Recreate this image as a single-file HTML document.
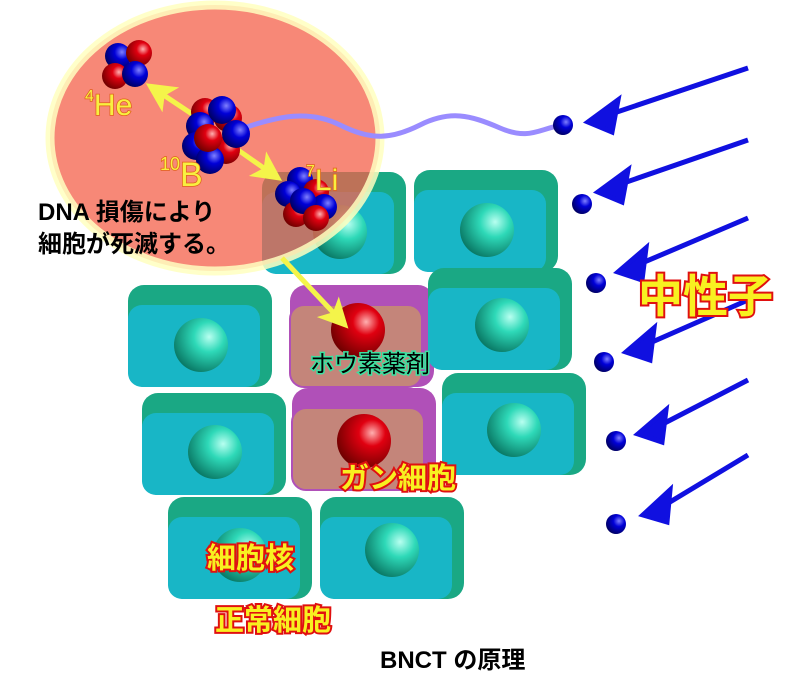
<!DOCTYPE html>
<html><head><meta charset="utf-8"><style>body{margin:0;background:#fff}svg{display:block}</style></head><body>
<svg width="800" height="680" viewBox="0 0 800 680" xmlns="http://www.w3.org/2000/svg" font-family="Liberation Sans, Noto Sans CJK JP, sans-serif">
<defs>
<radialGradient id="gn" cx="0.65" cy="0.35" r="0.7"><stop offset="0" stop-color="#b8fff0"/><stop offset="0.4" stop-color="#2ed9b8"/><stop offset="1" stop-color="#0a7a66"/></radialGradient>
<radialGradient id="rd" cx="0.65" cy="0.35" r="0.7"><stop offset="0" stop-color="#ffb0b0"/><stop offset="0.35" stop-color="#e00010"/><stop offset="1" stop-color="#700000"/></radialGradient>
<radialGradient id="bl" cx="0.65" cy="0.35" r="0.7"><stop offset="0" stop-color="#8080ff"/><stop offset="0.4" stop-color="#0000d8"/><stop offset="1" stop-color="#000060"/></radialGradient>
<g id="cell"><rect x="0" y="0" width="144" height="102" rx="16" fill="#1aa884"/><rect x="0" y="20" width="132" height="82" rx="14" fill="#18b6c6"/></g>
<g id="pcell"><rect x="0" y="0" width="144" height="102" rx="16" fill="#b050b8"/><rect x="0" y="20" width="132" height="82" rx="14" fill="#c4857a" stroke="#b050b8" stroke-width="2"/></g>
<marker id="ya" markerWidth="6" markerHeight="6" refX="5" refY="3" orient="auto" markerUnits="strokeWidth"><path d="M0,0 L6,3 L0,6 L1.5,3z" fill="#f4f44a"/></marker>
</defs>
<use href="#cell" x="262" y="172"/><use href="#cell" x="414" y="170"/>
<use href="#cell" x="128" y="285"/><use href="#pcell" x="290" y="285"/><use href="#cell" x="428" y="268"/>
<use href="#cell" x="142" y="393"/><use href="#pcell" x="292" y="388"/><use href="#cell" x="442" y="373"/>
<use href="#cell" x="168" y="497"/><use href="#cell" x="320" y="497"/>
<g fill="url(#gn)"><circle cx="340" cy="232" r="27"/><circle cx="487" cy="230" r="27"/><circle cx="201" cy="345" r="27"/><circle cx="502" cy="325" r="27"/><circle cx="215" cy="452" r="27"/><circle cx="514" cy="430" r="27"/><circle cx="240" cy="555" r="27"/><circle cx="392" cy="550" r="27"/></g>
<circle cx="358" cy="330" r="27" fill="url(#rd)"/><circle cx="364" cy="441" r="27" fill="url(#rd)"/>
<ellipse cx="215" cy="138" rx="165" ry="133" fill="#f4604a" fill-opacity="0.75" stroke="#ffffc0" stroke-width="9" stroke-opacity="0.85"/>
<path d="M238,130 C280,115 310,110 340,125 S390,140 420,125 S470,115 500,128 S540,128 563,125" fill="none" stroke="#9a8cff" stroke-width="5"/>
<g stroke="#f4f44a" stroke-width="5" fill="none"><line x1="198" y1="118" x2="150" y2="86" marker-end="url(#ya)"/><line x1="238" y1="150" x2="278" y2="178" marker-end="url(#ya)"/><line x1="282" y1="258" x2="345" y2="325" marker-end="url(#ya)"/></g>
<g><circle cx="118" cy="56" r="13" fill="url(#bl)"/><circle cx="139" cy="53" r="13" fill="url(#rd)"/><circle cx="115" cy="76" r="13" fill="url(#rd)"/><circle cx="135" cy="74" r="13" fill="url(#bl)"/></g>
<g><circle cx="205" cy="112" r="14" fill="url(#rd)"/><circle cx="228" cy="118" r="14" fill="url(#rd)"/><circle cx="200" cy="126" r="14" fill="url(#bl)"/><circle cx="222" cy="110" r="14" fill="url(#bl)"/><circle cx="196" cy="146" r="14" fill="url(#bl)"/><circle cx="226" cy="150" r="14" fill="url(#rd)"/><circle cx="210" cy="160" r="14" fill="url(#bl)"/><circle cx="208" cy="138" r="14" fill="url(#rd)"/><circle cx="236" cy="134" r="14" fill="url(#bl)"/></g>
<g><circle cx="300" cy="180" r="13" fill="url(#bl)"/><circle cx="288" cy="194" r="13" fill="url(#bl)"/><circle cx="316" cy="192" r="13" fill="url(#rd)"/><circle cx="324" cy="207" r="13" fill="url(#bl)"/><circle cx="296" cy="214" r="13" fill="url(#rd)"/><circle cx="303" cy="201" r="13" fill="url(#bl)"/><circle cx="316" cy="218" r="13" fill="url(#rd)"/></g>
<g fill="url(#bl)"><circle cx="563" cy="125" r="10"/><circle cx="582" cy="204" r="10"/><circle cx="596" cy="283" r="10"/><circle cx="604" cy="362" r="10"/><circle cx="616" cy="441" r="10"/><circle cx="616" cy="524" r="10"/></g>
<g stroke="#1010e0" stroke-width="5" fill="#1010e0">
<line x1="748" y1="68" x2="605" y2="116"/><polygon points="588,122 618,100 612,132"/>
<line x1="748" y1="140" x2="615" y2="186"/><polygon points="598,192 628,170 622,202"/>
<line x1="748" y1="218" x2="635" y2="266"/><polygon points="618,272 646,248 642,280"/>
<line x1="748" y1="300" x2="643" y2="346"/><polygon points="626,352 654,328 650,360"/>
<line x1="748" y1="380" x2="655" y2="428"/><polygon points="638,434 666,410 662,442"/>
<line x1="748" y1="455" x2="660" y2="508"/><polygon points="643,515 670,490 667,522"/>
</g>
<g fill="#f8f040" stroke="#e0601c" stroke-width="1.5" paint-order="stroke">
<text x="85" y="115" font-size="30"><tspan font-size="16" dy="-14">4</tspan><tspan dy="14">He</tspan></text>
<text x="160" y="186" font-size="34"><tspan font-size="18" dy="-16">10</tspan><tspan dy="16">B</tspan></text>
<text x="306" y="190" font-size="30"><tspan font-size="16" dy="-14">7</tspan><tspan dy="14">Li</tspan></text>
</g>
<g font-weight="bold" font-size="24" fill="#000"><text x="38" y="220">DNA 損傷により</text><text x="38" y="252">細胞が死滅する。</text></g>
<g font-weight="bold" fill="#f8f020" stroke="#e01010" stroke-width="4" paint-order="stroke">
<text x="638" y="312" font-size="45">中性子</text>
<text x="340" y="488" font-size="29">ガン細胞</text>
<text x="207" y="568" font-size="29">細胞核</text>
<text x="215" y="630" font-size="29">正常細胞</text>
</g>
<text x="310" y="372" font-size="24" fill="#000" stroke="#3ee0a0" stroke-width="3" paint-order="stroke">ホウ素薬剤</text>
<text x="380" y="668" font-size="24" font-weight="bold" fill="#000">BNCT の原理</text>
</svg>
</body></html>
